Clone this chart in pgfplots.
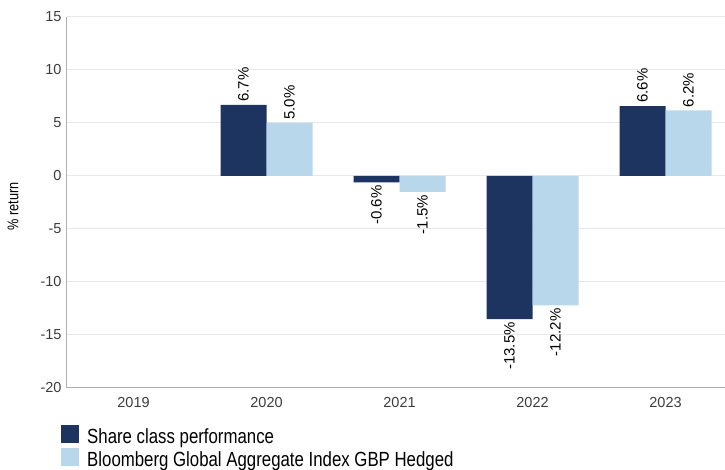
\documentclass[border=0pt]{standalone}
\usepackage{fontspec}
\setmainfont{Liberation Sans}
\newfontfamily\condfont[FakeStretch=0.82]{Liberation Sans}
\usepackage{pgfplots}
\pgfplotsset{compat=1.18}
\definecolor{dark}{RGB}{29,52,97}
\definecolor{light}{RGB}{184,215,234}
\definecolor{gridc}{RGB}{232,232,232}
\definecolor{axisc}{RGB}{175,175,175}
\definecolor{tickc}{RGB}{60,60,60}
\begin{document}
\begin{tikzpicture}
\useasboundingbox (0,0) rectangle (725pt,470pt);
\begin{axis}[
  at={(67pt,82pt)}, anchor=south west,
  scale only axis, width=658pt, height=371pt,
  xmin=-0.5, xmax=4.447, ymin=-20, ymax=15,
  ytick={-20,-15,-10,-5,0,5,10,15},
  yticklabels={-20,-15,-10,-5,0,5,10,15},
  xtick={0,1,2,3,4}, xticklabels={2019,2020,2021,2022,2023},
  axis x line*=bottom, axis y line*=left,
  axis line style={draw=axisc, line width=1pt, -},
  major tick length=0pt,
  ymajorgrids, grid style={draw=gridc, line width=1pt},
  tick label style={font=\fontsize{14.5}{16}\selectfont, text=tickc},
  xticklabel style={yshift=-6pt},
  yticklabel style={xshift=-2pt},
  ylabel={\condfont\fontsize{15.5}{17}\selectfont\% return},
  every axis y label/.style={at={(axis description cs:-0.082,0.49)}, rotate=90, anchor=center},
  ybar=0pt, bar width=46pt,
  point meta=explicit symbolic,
  nodes near coords={\pgfplotspointmeta\%},
  visualization depends on={value \thisrowno{1} \as \rawy},
  every node near coord/.append style={rotate=90, font=\fontsize{15}{16}\selectfont, text=black, inner sep=3pt},
  every node near coord/.append code={\ifdim\rawy pt<0pt\pgfkeysalso{/tikz/anchor=east}\else\pgfkeysalso{/tikz/anchor=west}\fi},
  legend style={at={(axis description cs:-0.0091,-0.1)}, anchor=north west, draw=none, fill=none, inner sep=0pt,
    column sep=8pt, row sep=0pt,
    nodes={inner sep=0pt, text height=15pt, text depth=5pt},
    font=\condfont\fontsize{20.5}{22}\selectfont},
  legend cell align=left,
  legend image code/.code={\fill[#1] (0pt,-5pt) rectangle (18pt,13pt);},
]
\addplot[fill=dark, draw=none] table[meta index=2] {
x y label
1 6.7 6.7
2 -0.6 -0.6
3 -13.5 -13.5
4 6.6 6.6
};
\addplot[fill=light, draw=none] table[meta index=2] {
x y label
1 5.0 5.0
2 -1.5 -1.5
3 -12.2 -12.2
4 6.2 6.2
};
\legend{Share class performance, Bloomberg Global Aggregate Index GBP Hedged}
\end{axis}
\end{tikzpicture}
\end{document}
